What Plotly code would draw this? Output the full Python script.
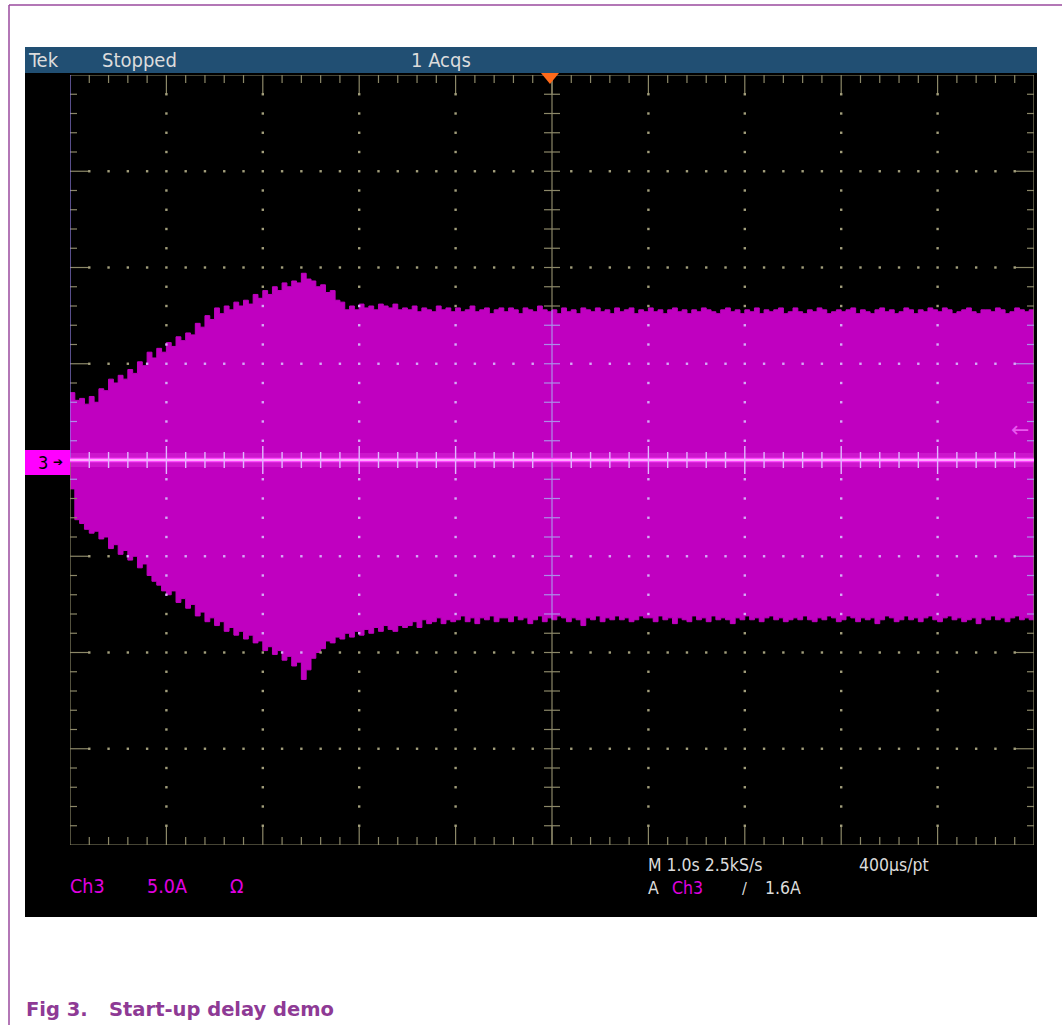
import numpy as np
import plotly.graph_objects as go

# ---------------- data ----------------
# Ch3 current envelope, 5.0 A/div, 1.0 s/div, sampled every 0.05 s from -5 s
T_START = -5.0
T_STEP = 0.05
UPPER_A = [
    3.5, 3.1, 3.2, 2.9, 3.3, 3.0, 3.7, 3.6, 4.2, 4.0,
    4.4, 4.2, 4.7, 4.5, 5.1, 4.9, 5.6, 5.3, 5.8, 5.6,
    6.1, 5.9, 6.4, 6.2, 6.6, 6.5, 7.1, 6.9, 7.5, 7.3,
    7.9, 7.6, 8.0, 7.8, 8.2, 8.0, 8.3, 8.1, 8.6, 8.4,
    8.8, 8.6, 9.0, 8.8, 9.2, 9.0, 9.3, 9.2, 9.7, 9.4,
    9.3, 9.0, 9.1, 8.7, 8.8, 8.3, 8.2, 7.8, 8.0, 7.8,
    8.1, 7.9, 8.0, 7.8, 8.1, 8.0, 7.9, 8.1, 7.8, 7.9,
    7.8, 8.0, 7.7, 7.9, 7.8, 7.7, 8.0, 7.8, 7.9, 7.7,
    7.9, 7.7, 7.8, 8.0, 7.7, 7.8, 7.9, 7.6, 7.8, 7.9,
    7.7, 7.9, 7.8, 7.6, 7.9, 7.8, 7.7, 8.0, 7.8, 7.7,
    7.8, 7.6, 7.9, 7.7, 7.8, 7.6, 7.9, 7.8, 7.7, 7.9,
    7.7, 7.8, 7.6, 7.9, 7.7, 7.8, 7.9, 7.6, 7.8, 7.7,
    7.9, 7.7, 7.8, 7.6, 7.8, 7.9, 7.7, 7.8, 7.6, 7.8,
    7.7, 7.9, 7.8, 7.7, 7.6, 7.8, 7.9, 7.7, 7.8, 7.6,
    7.8, 7.7, 7.9, 7.6, 7.8, 7.7, 7.8, 7.9, 7.6, 7.7,
    7.9, 7.7, 7.6, 7.8, 7.7, 7.9, 7.8, 7.6, 7.7, 7.8,
    7.7, 7.8, 7.9, 7.6, 7.8, 7.7, 7.6, 7.8, 7.9, 7.7,
    7.8, 7.6, 7.7, 7.9, 7.8, 7.6, 7.8, 7.7, 7.9, 7.8,
    7.7, 7.9, 7.8, 7.6, 7.7, 7.8, 7.9, 7.7, 7.6, 7.8,
    7.8, 7.7, 7.9, 7.8, 7.6, 7.7, 7.9, 7.8, 7.7, 7.8,
    7.8,
]
LOWER_A = [
    -1.5, -3.1, -3.3, -3.6, -3.8, -3.7, -4.1, -4.0, -4.6, -4.4,
    -4.9, -4.7, -5.2, -5.0, -5.6, -5.4, -6.0, -6.3, -6.5, -6.8,
    -7.0, -6.8, -7.4, -7.2, -7.7, -7.5, -8.1, -7.9, -8.4, -8.2,
    -8.6, -8.4, -8.9, -8.7, -9.1, -8.9, -9.3, -9.1, -9.5, -9.4,
    -9.9, -9.7, -10.1, -9.9, -10.4, -10.2, -10.7, -10.5, -11.4, -10.9,
    -10.3, -10.0, -9.8, -9.4, -9.5, -9.2, -9.3, -9.0, -9.2, -8.9,
    -9.1, -8.8, -9.0, -8.7, -8.9, -8.6, -8.8, -8.9, -8.6, -8.7,
    -8.6, -8.4, -8.7, -8.3, -8.5, -8.4, -8.2, -8.5, -8.3, -8.4,
    -8.3, -8.1, -8.4, -8.2, -8.5, -8.2, -8.3, -8.1, -8.4, -8.2,
    -8.2, -8.4, -8.1, -8.3, -8.2, -8.5, -8.3, -8.1, -8.4, -8.2,
    -8.3, -8.1, -8.2, -8.4, -8.2, -8.3, -8.6, -8.2, -8.3, -8.1,
    -8.4, -8.2, -8.3, -8.1, -8.3, -8.2, -8.4, -8.3, -8.1, -8.2,
    -8.2, -8.4, -8.1, -8.3, -8.2, -8.5, -8.2, -8.3, -8.4, -8.1,
    -8.3, -8.2, -8.4, -8.1, -8.3, -8.2, -8.3, -8.5, -8.2, -8.3,
    -8.1, -8.3, -8.2, -8.4, -8.2, -8.1, -8.3, -8.2, -8.4, -8.3,
    -8.2, -8.3, -8.1, -8.3, -8.4, -8.2, -8.3, -8.1, -8.2, -8.4,
    -8.3, -8.1, -8.2, -8.4, -8.2, -8.3, -8.2, -8.5, -8.3, -8.1,
    -8.2, -8.4, -8.3, -8.1, -8.3, -8.2, -8.4, -8.2, -8.1, -8.3,
    -8.4, -8.2, -8.1, -8.3, -8.2, -8.4, -8.3, -8.2, -8.5, -8.2,
    -8.3, -8.1, -8.3, -8.2, -8.4, -8.2, -8.1, -8.3, -8.2, -8.3,
    -8.2,
]
BASELINE_T = [-5.0, 5.0]
BASELINE_A = [0.0, 0.0]
TRIGGER_LEVEL_A = 1.6

TOP_TEXTS = ["Tek", "Stopped", "1 Acqs"]
BOTTOM_LEFT = ["Ch3", "5.0A", "Ω"]
BOTTOM_RIGHT_1 = ["M 1.0s 2.5kS/s", "400µs/pt"]
BOTTOM_RIGHT_2 = ["A", "Ch3", "/", "1.6A"]
CAPTION = ["Fig 3.", "Start-up delay demo"]

# ---------------- geometry / styles ----------------
W, H = 1062, 1025
PL, PR, PT, PB = 70, 1034, 75, 845          # plot area in pixels
XDIV, YDIV = 10, 8
S_DIV, A_DIV = 1.0, 5.0
XMIN, XMAX = -XDIV / 2 * S_DIV, XDIV / 2 * S_DIV
YMIN, YMAX = -YDIV / 2 * A_DIV, YDIV / 2 * A_DIV
SX = (XMAX - XMIN) / (PR - PL)   # seconds per pixel
SY = (YMAX - YMIN) / (PB - PT)   # amps per pixel

TAN = "#8c8868"
TAN_DOT = "#a39f7c"
LAV = "#ad8de8"
LAV_DOT = "#d6abf6"
MAG = "#c000c0"
TXT = "#dcdcdc"
TXT_MAG = "#e000e0"
SCOPE_FONT = "DejaVu Sans Condensed, DejaVu Sans, sans-serif"


def px_x(p):
    return (p - PL) / (PR - PL)


def px_y(p):
    return (PB - p) / (PB - PT)


time_s = np.round(T_START + T_STEP * np.arange(len(UPPER_A)), 3)
up = np.array(UPPER_A)
lo = np.array(LOWER_A)


def env_at(t):
    i = int(np.clip(np.floor((t - T_START) / T_STEP + 1e-9), 0, len(up) - 1))
    return lo[i], up[i]


def inside(t, a):
    l, u = env_at(t)
    return l <= a <= u


fig = go.Figure()

# envelope (step shaped like the scope's display columns)
fig.add_trace(go.Scatter(x=time_s, y=UPPER_A, mode="lines", line=dict(color=MAG, width=1, shape="hv"),
                         fill="tozeroy", fillcolor=MAG, hoverinfo="skip"))
fig.add_trace(go.Scatter(x=time_s, y=LOWER_A, mode="lines", line=dict(color=MAG, width=1, shape="hv"),
                         fill="tozeroy", fillcolor=MAG, hoverinfo="skip"))

# ---------------- graticule ----------------
segs = {TAN: ([], []), LAV: ([], []), "#e2b8ff": ([], []), "#9484ea": ([], [])}


def seg(color, x0, y0, x1, y1):
    xs, ys = segs[color]
    xs += [x0, x1, None]
    ys += [y0, y1, None]


# frame
seg(TAN, XMIN, YMAX, XMAX, YMAX)
seg(TAN, XMIN, YMIN, XMAX, YMIN)
seg(TAN, XMAX, YMIN, XMAX, YMAX)
seg("#9484ea", XMIN, 0, XMIN, YMAX)
seg(TAN, XMIN, YMIN, XMIN, 0)

nx = XDIV * 5
ny = YDIV * 5
for k in range(1, nx):
    t = XMIN + k * S_DIV / 5
    major = k % 5 == 0
    L = (20 if major else 8) * SY
    seg(TAN, t, YMAX, t, YMAX - L)
    seg(TAN, t, YMIN, t, YMIN + L)
    # crosses on the centre horizontal line
    if k != nx // 2:
        c = (14 if major else 8) * SY
        seg("#e2b8ff", t, -c, t, c)

for k in range(1, ny):
    a = YMIN + k * A_DIV / 5
    major = k % 5 == 0
    L = (20 if major else 7) * SX
    seg(LAV if inside(XMIN, a) else TAN, XMIN, a, XMIN + L, a)
    seg(LAV if inside(XMAX - 1e-6, a) else TAN, XMAX, a, XMAX - L, a)
    if k != ny // 2:
        c = 8 * SX
        seg(LAV if inside(0, a) else TAN, -c, a, c, a)

# centre vertical line, coloured by the envelope it crosses
l0, u0 = env_at(0)
seg(TAN, 0, YMIN, 0, l0)
seg(LAV, 0, l0, 0, u0)
seg(TAN, 0, u0, 0, YMAX)

# dotted grid lines
dx, dy, dc = [], [], []
for j in range(1, XDIV):
    t = XMIN + j * S_DIV
    if abs(t) < 1e-9:
        continue
    for k in range(1, ny):
        a = YMIN + k * A_DIV / 5
        if abs(a) < 1e-9:
            continue
        dx.append(t); dy.append(a); dc.append(LAV_DOT if inside(t, a) else TAN_DOT)
for j in range(1, YDIV):
    a = YMIN + j * A_DIV
    if abs(a) < 1e-9:
        continue
    for k in range(1, nx):
        if k % 5 == 0:
            continue
        t = XMIN + k * S_DIV / 5
        dx.append(t); dy.append(a); dc.append(LAV_DOT if inside(t, a) else TAN_DOT)

# baseline glow (the Ch3 trace around 0 A)
fig.add_trace(go.Scatter(x=BASELINE_T, y=BASELINE_A, mode="lines",
                         line=dict(color="#cc16cc", width=14), hoverinfo="skip"))

for col in [TAN, LAV, "#9484ea"]:
    xs, ys = segs[col]
    fig.add_trace(go.Scatter(x=xs, y=ys, mode="lines", line=dict(color=col, width=1.2),
                             hoverinfo="skip", connectgaps=False))
fig.add_trace(go.Scatter(x=dx, y=dy, mode="markers",
                         marker=dict(symbol="square", size=2.4, color=dc, line=dict(width=0)),
                         hoverinfo="skip"))

fig.add_trace(go.Scatter(x=BASELINE_T, y=BASELINE_A, mode="lines",
                         line=dict(color="#ff48ff", width=4.5), hoverinfo="skip"))
fig.add_trace(go.Scatter(x=BASELINE_T, y=BASELINE_A, mode="lines",
                         line=dict(color="#ffc8ff", width=1.4), hoverinfo="skip"))
xs, ys = segs["#e2b8ff"]
fig.add_trace(go.Scatter(x=xs, y=ys, mode="lines", line=dict(color="#e2b8ff", width=1.4),
                         hoverinfo="skip"))

# ---------------- shapes ----------------
shapes = []
# scope screen
shapes.append(dict(type="rect", xref="paper", yref="paper", x0=px_x(25), x1=px_x(1037),
                   y0=px_y(917), y1=px_y(47), fillcolor="black", line=dict(width=0), layer="below"))
# status bar
shapes.append(dict(type="rect", xref="paper", yref="paper", x0=px_x(25), x1=px_x(1037),
                   y0=px_y(73), y1=px_y(47), fillcolor="#214f73", line=dict(width=0), layer="below"))
# page border
shapes.append(dict(type="line", xref="paper", yref="paper", x0=px_x(9), x1=px_x(9),
                   y0=px_y(1025), y1=px_y(5), line=dict(color="#9a4a9e", width=1.5)))
shapes.append(dict(type="line", xref="paper", yref="paper", x0=px_x(9), x1=px_x(1062),
                   y0=px_y(5), y1=px_y(5), line=dict(color="#9a4a9e", width=1.5)))
# channel 3 ground marker
shapes.append(dict(type="rect", xref="paper", yref="paper", x0=px_x(25), x1=px_x(70),
                   y0=px_y(475), y1=px_y(450), fillcolor="#ff00ff", line=dict(width=0)))
# trigger position marker
shapes.append(dict(type="path", xref="paper", yref="paper",
                   path=(f"M {px_x(541)},{px_y(73)} L {px_x(559)},{px_y(73)} "
                         f"L {px_x(550)},{px_y(84)} Z"),
                   fillcolor="#ff6a1a", line=dict(width=0)))

# ---------------- texts ----------------
ann = []


def text(s, xp, yp, color=TXT, size=19.5, family=SCOPE_FONT):
    ann.append(dict(text=s, xref="paper", yref="paper", x=px_x(xp), y=px_y(yp),
                    xanchor="left", yanchor="middle", showarrow=False, borderpad=0,
                    font=dict(color=color, size=size, family=family)))


text(TOP_TEXTS[0], 27, 60, size=20)
text(TOP_TEXTS[1], 101, 60, size=20)
text(TOP_TEXTS[2], 410, 60, size=20)
text(BOTTOM_LEFT[0], 69, 887, color=TXT_MAG)
text(BOTTOM_LEFT[1], 146, 887, color=TXT_MAG)
text(BOTTOM_LEFT[2], 229, 887, color=TXT_MAG)
text(BOTTOM_RIGHT_1[0], 647, 865, size=17.5)
text(BOTTOM_RIGHT_1[1], 858, 865, size=17.5)
text(BOTTOM_RIGHT_2[0], 647, 888, size=17.5)
text(BOTTOM_RIGHT_2[1], 671, 888, color=TXT_MAG, size=17.5)
text(BOTTOM_RIGHT_2[2], 741, 888, size=16)
text(BOTTOM_RIGHT_2[3], 764, 888, size=17.5)
text("3", 37, 463, color="black", size=18)
text("➔", 52, 462, color="black", size=12, family="DejaVu Sans")
text(f"<b>{CAPTION[0]}</b>", 25, 1009, color="#8e3a95", size=19.5, family="DejaVu Sans, sans-serif")
text(f"<b>{CAPTION[1]}</b>", 108, 1009, color="#8e3a95", size=19.5, family="DejaVu Sans, sans-serif")

# trigger level arrow on the right edge
ann.append(dict(text="←", x=XMAX - 14 * SX, y=TRIGGER_LEVEL_A, xref="x", yref="y",
                xanchor="center", yanchor="middle", showarrow=False,
                font=dict(color="#e858ee", size=22, family="DejaVu Sans")))

fig.update_layout(
    width=W, height=H,
    margin=dict(l=PL, r=W - PR, t=PT, b=H - PB, pad=0),
    paper_bgcolor="white", plot_bgcolor="black",
    showlegend=False,
    xaxis=dict(range=[XMIN, XMAX], visible=False, fixedrange=True),
    yaxis=dict(range=[YMIN, YMAX], visible=False, fixedrange=True),
    shapes=shapes, annotations=ann,
)

fig.write_html("out.html", config={"displayModeBar": False},
               post_script="document.body.style.margin='0';")
